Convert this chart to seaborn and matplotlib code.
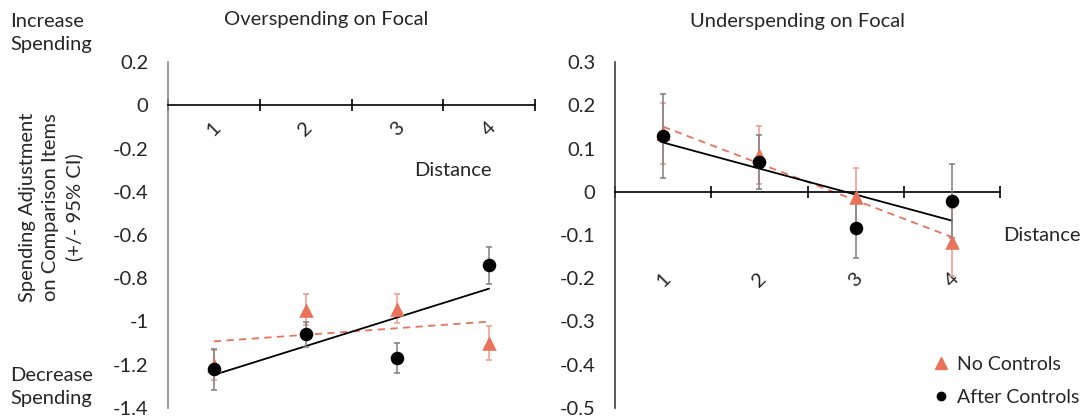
import matplotlib
matplotlib.use("Agg")
import matplotlib.pyplot as plt
from matplotlib.lines import Line2D
import numpy as np
import pandas as pd
import seaborn as sns

DISTANCE = [1, 2, 3, 4]
DISTANCE_LABELS = ["1", "2", "3", "4"]

# Overspending on focal
OVER_NO_CONTROLS = [-1.20, -0.945, -0.94, -1.10]
OVER_NO_CONTROLS_CI = [0.07, 0.07, 0.068, 0.08]
OVER_AFTER_CONTROLS = [-1.22, -1.06, -1.17, -0.74]
OVER_AFTER_CONTROLS_CI = [0.095, 0.06, 0.07, 0.085]

# Underspending on focal
UNDER_NO_CONTROLS = [0.135, 0.085, -0.013, -0.116]
UNDER_NO_CONTROLS_CI = [0.07, 0.067, 0.068, 0.078]
UNDER_AFTER_CONTROLS = [0.129, 0.069, -0.083, -0.021]
UNDER_AFTER_CONTROLS_CI = [0.097, 0.063, 0.07, 0.086]

OVER_YTICKS = [0.2, 0, -0.2, -0.4, -0.6, -0.8, -1, -1.2, -1.4]
UNDER_YTICKS = [0.3, 0.2, 0.1, 0, -0.1, -0.2, -0.3, -0.4, -0.5]

ORANGE = "#E8735A"
ORANGE_BAR = "#EE9A88"
GREY_BAR = "#7F7F7F"
FONT = ["Lato", "DejaVu Sans"]
FS = 14.5


def tick_label(v):
    if v == 0:
        return "0"
    s = f"{v:.1f}"
    return s[:-2] if s.endswith(".0") else s


def draw_panel(ax, no_ctrl, no_ci, after_ctrl, after_ci, yticks, label_pad, spine_color):
    df = pd.DataFrame({
        "distance": DISTANCE * 2,
        "value": no_ctrl + after_ctrl,
        "series": ["No Controls"] * 4 + ["After Controls"] * 4,
    })
    no_df = df[df["series"] == "No Controls"]
    after_df = df[df["series"] == "After Controls"]

    # spine position first: moving it resets the tick setup
    ax.spines["bottom"].set_position(("data", 0))

    ax.errorbar(no_df["distance"], no_df["value"], yerr=no_ci, fmt="none",
                ecolor=ORANGE_BAR, elinewidth=1.1, capsize=2.5, capthick=1.1, zorder=2)
    ax.errorbar(after_df["distance"], after_df["value"], yerr=after_ci, fmt="none",
                ecolor=GREY_BAR, elinewidth=1.1, capsize=2.5, capthick=1.1, zorder=3)

    sns.scatterplot(data=no_df, x="distance", y="value", marker="^", s=110,
                    color=ORANGE, edgecolor=ORANGE, linewidth=0, ax=ax, zorder=4, legend=False)
    sns.scatterplot(data=after_df, x="distance", y="value", marker="o", s=95,
                    color="black", edgecolor="black", linewidth=0, ax=ax, zorder=5, legend=False)

    # linear trend lines
    sns.regplot(data=no_df, x="distance", y="value", scatter=False, ci=None, truncate=True,
                line_kws={"color": ORANGE, "lw": 1.3, "ls": (0, (4, 3))}, ax=ax)
    sns.regplot(data=after_df, x="distance", y="value", scatter=False, ci=None, truncate=True,
                line_kws={"color": "black", "lw": 1.3}, ax=ax)

    ax.set_xlim(0.5, 4.5)
    ax.set_ylim(min(yticks), max(yticks))
    ax.set_yticks(yticks)
    ax.set_yticklabels([tick_label(v) for v in yticks], fontsize=FS, family=FONT)
    ax.tick_params(axis="y", length=0, pad=14)

    ax.set_xticks(DISTANCE)
    ax.set_xticklabels(DISTANCE_LABELS, rotation=45, fontsize=FS, family=FONT)
    ax.set_xticks([0.5, 1.5, 2.5, 3.5, 4.5], minor=True)
    ax.tick_params(axis="x", which="major", length=0, pad=label_pad)
    ax.tick_params(axis="x", which="minor", bottom=True, length=9, width=1.2,
                   direction="inout", color="black")

    ax.spines["bottom"].set_color("black")
    ax.spines["bottom"].set_linewidth(1.2)
    ax.spines["left"].set_color(spine_color)
    ax.spines["left"].set_linewidth(1.2)
    ax.spines["top"].set_visible(False)
    ax.spines["right"].set_visible(False)
    ax.set_xlabel("")
    ax.set_ylabel("")
    ax.grid(False)
    ax.set_facecolor("none")


sns.set_style("white")
plt.rcParams["font.family"] = FONT

fig = plt.figure(figsize=(10.86, 4.17), dpi=100)
ax1 = fig.add_axes([168 / 1086, 1 - 408 / 417, (535 - 168) / 1086, (408 - 62) / 417])
ax2 = fig.add_axes([615 / 1086, 1 - 408 / 417, (1000 - 615) / 1086, (408 - 62) / 417])

draw_panel(ax1, OVER_NO_CONTROLS, OVER_NO_CONTROLS_CI, OVER_AFTER_CONTROLS,
           OVER_AFTER_CONTROLS_CI, OVER_YTICKS, 10, "#8C8C8C")
draw_panel(ax2, UNDER_NO_CONTROLS, UNDER_NO_CONTROLS_CI, UNDER_AFTER_CONTROLS,
           UNDER_AFTER_CONTROLS_CI, UNDER_YTICKS, 56, "#404040")

fig.text(326 / 1086, 1 - 19 / 417, "Overspending on Focal", ha="center", va="center", fontsize=FS)
fig.text(797 / 1086, 1 - 22 / 417, "Underspending on Focal", ha="center", va="center", fontsize=FS)
fig.text(414 / 1086, 1 - 170 / 417, "Distance", ha="left", va="center", fontsize=FS)
fig.text(1003 / 1086, 1 - 235 / 417, "Distance", ha="left", va="center", fontsize=FS)

fig.text(10 / 1086, 1 - 33 / 417, "Increase\nSpending", ha="left", va="center",
         fontsize=FS, linespacing=1.45)
fig.text(10 / 1086, 1 - 387 / 417, "Decrease\nSpending", ha="left", va="center",
         fontsize=FS, linespacing=1.45)
fig.text(51 / 1086, 1 - 207 / 417, "Spending Adjustment\non Comparison Items\n(+/- 95% CI)",
         ha="center", va="center", rotation=90, fontsize=FS, linespacing=1.4)

handles = [
    Line2D([], [], marker="^", color=ORANGE, ls="none", markersize=8),
    Line2D([], [], marker="o", color="black", ls="none", markersize=6),
]
fig.legend(handles, ["No Controls", "After Controls"], loc="center left",
           bbox_to_anchor=(925 / 1086, 1 - 381 / 417), frameon=False, fontsize=14,
           handlelength=0.8, handletextpad=0.45, labelspacing=0.85, borderaxespad=0.0)

fig.savefig("out.png", dpi=100)
